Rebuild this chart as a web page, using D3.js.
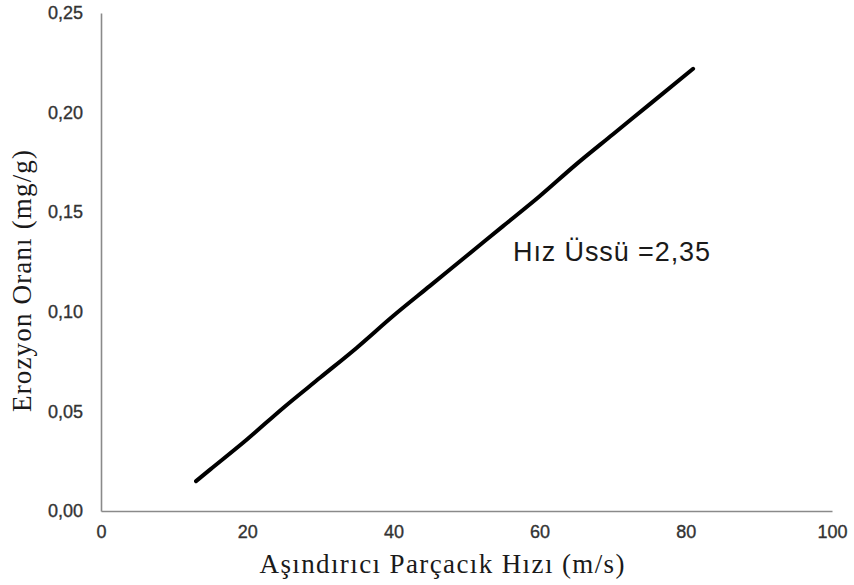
<!DOCTYPE html>
<html>
<head>
<meta charset="utf-8">
<script src="https://cdn.jsdelivr.net/npm/d3@7"></script>
<style>
  body { margin: 0; background: #fff; }
  .tick text { font-family: "Liberation Sans", Arial, sans-serif; }
</style>
</head>
<body>
<div id="chart"></div>
<script>
// hız (m/s) ve erozyon oranı (mg/g)
var hiz = [13, 15, 20, 25, 30, 35, 40, 45, 50, 55, 60, 65, 70, 75, 81];
var erozyon = [0.015, 0.021, 0.036, 0.052, 0.067, 0.082, 0.098, 0.113, 0.128, 0.143, 0.158, 0.174, 0.189, 0.204, 0.222];
var xTicks = [0, 20, 40, 60, 80, 100];
var yTicks = [0, 0.05, 0.10, 0.15, 0.20, 0.25];
var etiket = "Hız Üssü =2,35";

var width = 854, height = 585;
var svg = d3.select("#chart").append("svg")
    .attr("width", width)
    .attr("height", height);

var x = d3.scaleLinear().domain([0, 100]).range([101, 832]);
var y = d3.scaleLinear().domain([0, 0.25]).range([511, 13]);

var fmt = function(d) { return d3.format(".2f")(d).replace(".", ","); };

// eksenler
var xAxis = svg.append("g")
    .attr("transform", "translate(0," + y(0) + ")")
    .call(d3.axisBottom(x).tickValues(xTicks).tickSize(0).tickPadding(14));
xAxis.select(".domain").attr("stroke", "#8a8a8a").attr("stroke-width", 1.6);
xAxis.selectAll("text").attr("font-size", 18).attr("fill", "#333")
    .attr("stroke", "#333").attr("stroke-width", 0.35);

var yAxis = svg.append("g")
    .attr("transform", "translate(" + x(0) + ",0)")
    .call(d3.axisLeft(y).tickValues(yTicks).tickFormat(fmt).tickSize(0).tickPadding(18));
yAxis.select(".domain").attr("stroke", "#8a8a8a").attr("stroke-width", 1.6);
yAxis.selectAll("text").attr("font-size", 18).attr("fill", "#333")
    .attr("stroke", "#333").attr("stroke-width", 0.35);

// veri çizgisi
var data = hiz.map(function(d, i) { return {x: d, y: erozyon[i]}; });
var line = d3.line().curve(d3.curveMonotoneX).x(d => x(d.x)).y(d => y(d.y));
svg.append("path")
    .datum(data)
    .attr("d", line)
    .attr("fill", "none")
    .attr("stroke", "#000")
    .attr("stroke-width", 4)
    .attr("stroke-linecap", "round");

// not
svg.append("text")
    .attr("x", 513)
    .attr("y", 261)
    .attr("font-family", "Liberation Sans, Arial, sans-serif")
    .attr("font-size", 27)
    .attr("fill", "#1a1a1a")
    .attr("textLength", 197)
    .text(etiket);

// eksen başlıkları
svg.append("text")
    .attr("x", 442)
    .attr("y", 573)
    .attr("text-anchor", "middle")
    .attr("font-family", "Liberation Serif, Times New Roman, serif")
    .attr("font-size", 27)
    .attr("fill", "#1a1a1a")
    .attr("textLength", 365)
    .text("Aşındırıcı Parçacık Hızı (m/s)");

svg.append("text")
    .attr("transform", "translate(31,281) rotate(-90)")
    .attr("text-anchor", "middle")
    .attr("font-family", "Liberation Serif, Times New Roman, serif")
    .attr("font-size", 27)
    .attr("fill", "#1a1a1a")
    .attr("textLength", 262)
    .text("Erozyon Oranı (mg/g)");
</script>
</body>
</html>
